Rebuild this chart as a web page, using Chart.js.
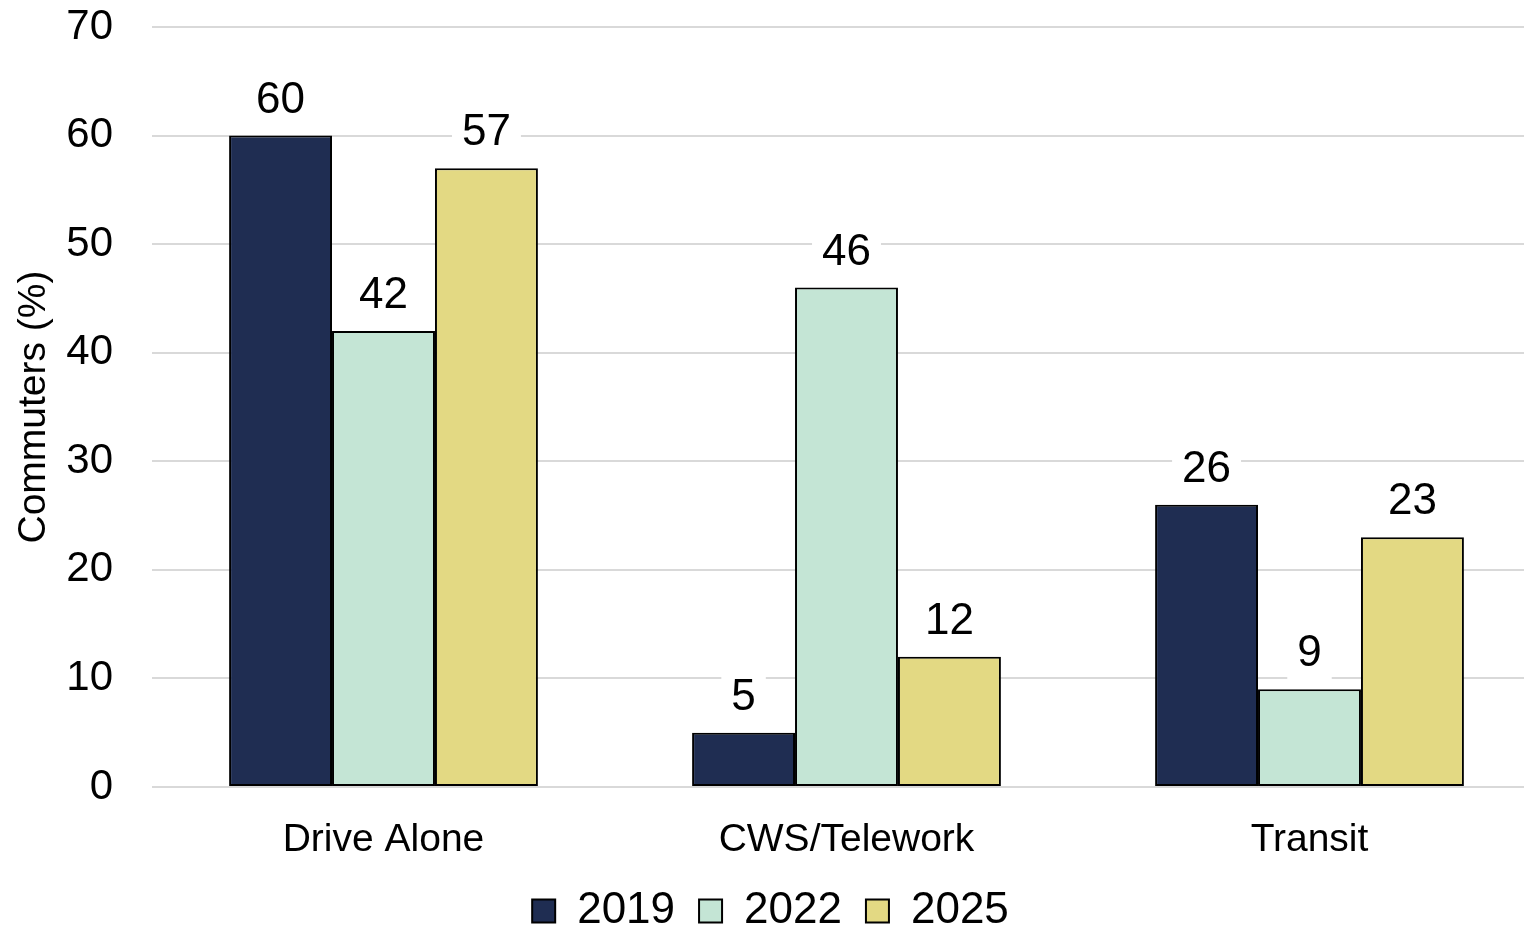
<!DOCTYPE html>
<html>
<head>
<meta charset="utf-8">
<script src="https://cdn.jsdelivr.net/npm/chart.js@4.4.1/dist/chart.umd.min.js"></script>
<style>
  html, body { margin: 0; padding: 0; background: #fff; overflow: hidden; }
  #wrap { width: 1541px; height: 926px; }
</style>
</head>
<body>
<div id="wrap"><canvas id="chart"></canvas></div>
<script>
const categories = ["Drive Alone", "CWS/Telework", "Transit"];
const years = ["2019", "2022", "2025"];
const values2019 = [60, 5, 26];
const values2022 = [42, 46, 9];
const values2025 = [57, 12, 23];
const yTicks = [0, 10, 20, 30, 40, 50, 60, 70];

const FONT = "'Liberation Sans', Arial, sans-serif";

// etiquetas de valor sobre as barras, com fundo branco
const valueLabels = {
  id: "valueLabels",
  afterDatasetsDraw(chart) {
    const ctx = chart.ctx;
    ctx.save();
    ctx.font = "44px " + FONT;
    ctx.textAlign = "center";
    ctx.textBaseline = "middle";
    chart.data.datasets.forEach((ds, i) => {
      chart.getDatasetMeta(i).data.forEach((bar, j) => {
        const txt = String(ds.data[j]);
        const w = ctx.measureText(txt).width + 20;
        ctx.fillStyle = "#fff";
        ctx.fillRect(bar.x - w / 2, bar.y - 66, w, 64);
        ctx.fillStyle = "#000";
        ctx.fillText(txt, bar.x, bar.y - 35);
      });
    });
    ctx.restore();
  }
};

new Chart(document.getElementById("chart"), {
  type: "bar",
  data: {
    labels: categories,
    datasets: [
      { label: years[0], data: values2019, backgroundColor: "#1f2d52" },
      { label: years[1], data: values2022, backgroundColor: "#c4e5d5" },
      { label: years[2], data: values2025, backgroundColor: "#e3d983" }
    ].map(d => Object.assign(d, {
      borderColor: "#000",
      borderWidth: 2,
      borderSkipped: false,
      categoryPercentage: 0.667,
      barPercentage: 1
    }))
  },
  options: {
    responsive: true,
    maintainAspectRatio: false,
    animation: false,
    layout: { padding: { top: 27, left: 0, right: 0, bottom: -17 } },
    plugins: {
      legend: {
        position: "bottom",
        labels: {
          font: { family: FONT, size: 44 },
          color: "#000",
          boxWidth: 23,
          boxHeight: 23,
          padding: 24,
          useBorderRadius: false
        }
      },
      tooltip: { enabled: false }
    },
    scales: {
      x: {
        grid: { display: false },
        border: { display: false },
        afterFit(scale) {
          scale.height = 78;
        },
        ticks: {
          font: { family: FONT, size: 39 },
          color: "#000",
          padding: 22
        }
      },
      y: {
        min: 0,
        max: 70,
        afterBuildTicks(scale) {
          scale.ticks = yTicks.map(v => ({ value: v }));
        },
        afterFit(scale) {
          scale.width = 152;
          scale.paddingTop = 0;
          scale.paddingBottom = 0;
        },
        grid: { color: "#d9d9d9", lineWidth: 2, drawTicks: false },
        border: { display: false },
        ticks: {
          font: { family: FONT, size: 42 },
          color: "#000",
          padding: 39
        },
        title: {
          display: true,
          text: "Commuters (%)",
          font: { family: FONT, size: 39 },
          color: "#000",
          padding: { top: 11, bottom: 0 }
        }
      }
    }
  },
  plugins: [valueLabels]
});
</script>
</body>
</html>
